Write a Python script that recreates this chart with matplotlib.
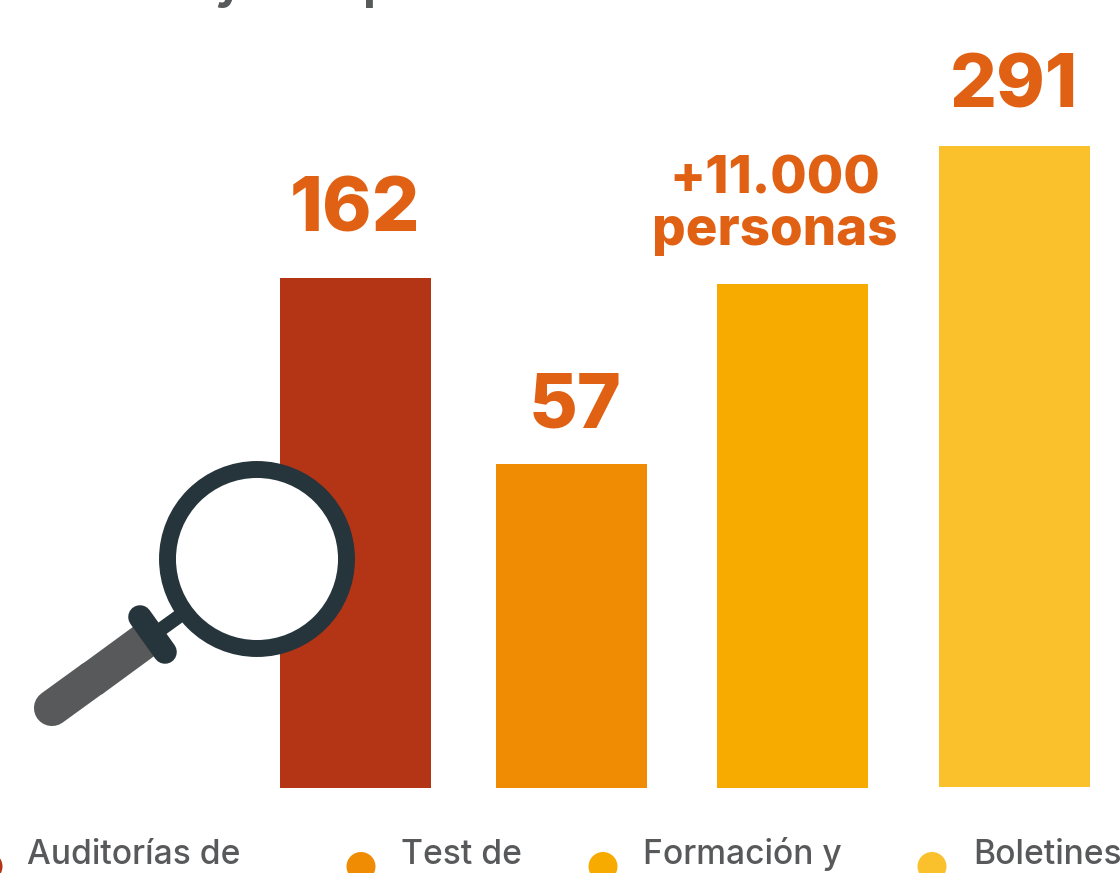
import matplotlib
matplotlib.use('Agg')
import matplotlib.pyplot as plt
from matplotlib.patches import Circle

# heights as measured on the picture (bars are not to scale with their labels)
categories = ['Auditorías de', 'Test de', 'Formación y', 'Boletines']
bar_values = [510, 324, 504, 641]
bar_labels = ['162', '57', '+11.000\npersonas', '291']
bar_colors = ['#B43416', '#F08B04', '#F7AB00', '#FBC12D']

bar_centers = [355.5, 571.5, 792.5, 1014.5]
bar_width = 151
bar_floor = [0, 0, 0, 1]
label_x = [354.5, 575, 775, 1014]
label_baseline = [231, 427, 245, 108]
label_size = [54, 54, 38, 53]
legend_dot_x = [-12, 361, 603, 932]
legend_text_x = [27, 401, 643, 973]

W, H = 1120, 873
BASE = 788
LABEL_COL = '#E06113'
GREY = '#58595B'
DARK = '#26353C'
plt.rcParams['font.family'] = ['Inter', 'DejaVu Sans']


def py(y):
    # pixel row in the picture -> axes y
    return BASE - y


fig = plt.figure(figsize=(W / 100, H / 100), dpi=100)
ax = fig.add_axes([0, 0, 1, 1])
ax.set_xlim(0, W)
ax.set_ylim(py(H), py(0))
ax.axis('off')

ax.bar(bar_centers, bar_values, width=bar_width, bottom=bar_floor, color=bar_colors, zorder=1)

for i in range(4):
    ax.text(label_x[i], py(label_baseline[i]), bar_labels[i], color=LABEL_COL, fontsize=label_size[i],
            fontweight=800, ha='center', va='baseline', linespacing=1.06)

# legend row, cut off by the bottom of the picture
for i in range(4):
    ax.add_patch(Circle((legend_dot_x[i], py(866.5)), 14.5, color=bar_colors[i], lw=0))
    ax.text(legend_text_x[i], py(864), categories[i], color=GREY, fontsize=24.2, fontweight='medium',
            ha='left', va='baseline')

# magnifying glass
ax.plot([52, 92], [py(708), py(679)], color=GREY, lw=26, solid_capstyle='round', zorder=2)
ax.plot([91, 147], [py(680), py(639)], color=GREY, lw=26, solid_capstyle='butt', zorder=2)
ax.plot([160, 185], [py(630), py(612)], color=DARK, lw=10, solid_capstyle='butt', zorder=3)
ax.plot([140, 165], [py(617), py(652)], color=DARK, lw=17, solid_capstyle='round', zorder=3)
ax.add_patch(Circle((257, py(559)), 89.5, facecolor='white', edgecolor=DARK, lw=12.2, zorder=4))

# descenders of the title line cut off at the top
ax.text(228, py(-2), 'y', color=GREY, fontsize=34, fontweight='bold', ha='center', va='baseline')
ax.text(378, py(-2), 'p', color=GREY, fontsize=34, fontweight='bold', ha='center', va='baseline')

fig.savefig('out.png', dpi=100)
